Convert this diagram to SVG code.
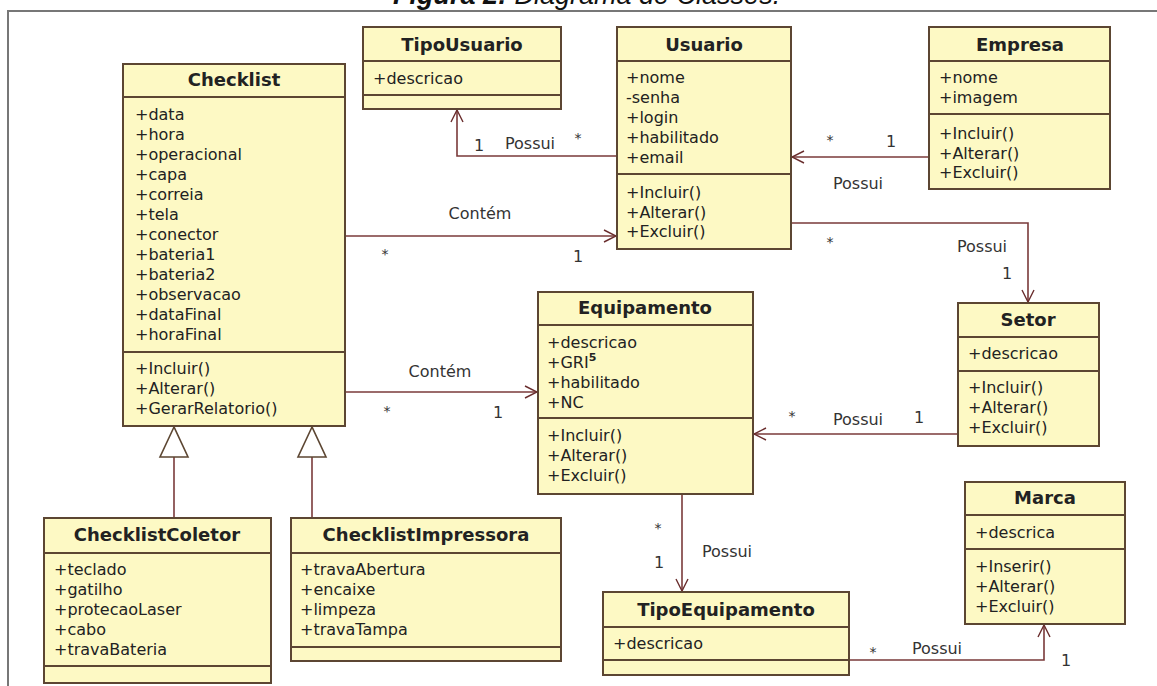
<svg xmlns="http://www.w3.org/2000/svg" width="1157" height="686" viewBox="0 0 1157 686">
<defs>
<style>
.box{fill:#fdf9c4;stroke:#5c4632;stroke-width:2}
.sep{stroke:#5c4632;stroke-width:2}
.t{font-family:"DejaVu Sans",sans-serif;font-size:18px;font-weight:bold;fill:#222;text-anchor:middle}
.a{font-family:"DejaVu Sans",sans-serif;font-size:16px;fill:#222}
.l{font-family:"DejaVu Sans",sans-serif;font-size:16px;fill:#333;text-anchor:middle}
.m{font-family:"DejaVu Sans",sans-serif;font-size:14px;fill:#333;text-anchor:middle}
.c{fill:none;stroke:#7a3a3a;stroke-width:1.6}
.g{fill:#fff;stroke:#5c4632;stroke-width:1.6}
</style>
<marker id="arr" viewBox="0 0 14 14" refX="13" refY="7" markerWidth="14" markerHeight="14" markerUnits="userSpaceOnUse" orient="auto">
<path d="M1,1 L13,7 L1,13" fill="none" stroke="#6a2e2e" stroke-width="1.4"/>
</marker>
</defs>
<rect x="0" y="0" width="1157" height="686" fill="#fff"/>
<text x="393" y="4" font-family="Liberation Sans,Arial,sans-serif" font-size="27" font-style="italic" fill="#111"><tspan font-weight="bold">Figura 2:</tspan> Diagrama de Classes.</text>
<path d="M8,686 L8,11 L1157,11" fill="none" stroke="#777" stroke-width="2"/>

<g id="connectors">
<polyline class="c" points="617,156 457,156 457,110" marker-end="url(#arr)"/>
<text class="l" x="479" y="151">1</text><text class="l" x="530" y="149">Possui</text><text class="m" x="578" y="143">*</text>
<line class="c" x1="929" y1="157" x2="792" y2="157" marker-end="url(#arr)"/>
<text class="m" x="830" y="145">*</text><text class="l" x="891" y="147">1</text><text class="l" x="858" y="189">Possui</text>
<line class="c" x1="345" y1="236" x2="616" y2="236" marker-end="url(#arr)"/>
<text class="l" x="480" y="219">Contém</text><text class="m" x="385" y="259">*</text><text class="l" x="578" y="262">1</text>
<polyline class="c" points="792,223 1028,223 1028,302" marker-end="url(#arr)"/>
<text class="m" x="830" y="247">*</text><text class="l" x="982" y="252">Possui</text><text class="l" x="1007" y="279">1</text>
<line class="c" x1="345" y1="392" x2="537" y2="392" marker-end="url(#arr)"/>
<text class="l" x="440" y="377">Contém</text><text class="m" x="387" y="416">*</text><text class="l" x="498" y="418">1</text>
<line class="c" x1="958" y1="434" x2="754" y2="434" marker-end="url(#arr)"/>
<text class="m" x="792" y="421">*</text><text class="l" x="858" y="425">Possui</text><text class="l" x="919" y="423">1</text>
<line class="c" x1="682" y1="494" x2="682" y2="591" marker-end="url(#arr)"/>
<text class="m" x="658" y="533">*</text><text class="l" x="727" y="557">Possui</text><text class="l" x="659" y="568">1</text>
<polyline class="c" points="849,660 1044,660 1044,625" marker-end="url(#arr)"/>
<text class="m" x="873" y="657">*</text><text class="l" x="937" y="654">Possui</text><text class="l" x="1066" y="666">1</text>
<line class="c" x1="174" y1="518" x2="174" y2="457"/>
<polygon class="g" points="174,427 160,457 188,457"/>
<line class="c" x1="312" y1="518" x2="312" y2="457"/>
<polygon class="g" points="312,427 298,457 326,457"/>
</g>

<g id="TipoUsuario">
<rect class="box" x="363" y="27" width="198" height="82"/>
<line class="sep" x1="363" y1="61" x2="561" y2="61"/><line class="sep" x1="363" y1="95" x2="561" y2="95"/>
<text class="t" x="462" y="51">TipoUsuario</text>
<text class="a" x="373" y="84">+descricao</text>
</g>

<g id="Usuario">
<rect class="box" x="617" y="27" width="174" height="222"/>
<line class="sep" x1="617" y1="61" x2="791" y2="61"/><line class="sep" x1="617" y1="174" x2="791" y2="174"/>
<text class="t" x="704" y="51">Usuario</text>
<text class="a" x="626" y="83">+nome</text>
<text class="a" x="626" y="103">-senha</text>
<text class="a" x="626" y="123">+login</text>
<text class="a" x="626" y="143">+habilitado</text>
<text class="a" x="626" y="163">+email</text>
<text class="a" x="626" y="198">+Incluir()</text>
<text class="a" x="626" y="218">+Alterar()</text>
<text class="a" x="626" y="237">+Excluir()</text>
</g>

<g id="Empresa">
<rect class="box" x="929" y="27" width="181" height="162"/>
<line class="sep" x1="929" y1="61" x2="1110" y2="61"/><line class="sep" x1="929" y1="114" x2="1110" y2="114"/>
<text class="t" x="1020" y="51">Empresa</text>
<text class="a" x="939" y="83">+nome</text>
<text class="a" x="939" y="103">+imagem</text>
<text class="a" x="939" y="139">+Incluir()</text>
<text class="a" x="939" y="159">+Alterar()</text>
<text class="a" x="939" y="178">+Excluir()</text>
</g>

<g id="Checklist">
<rect class="box" x="123" y="64" width="222" height="362"/>
<line class="sep" x1="123" y1="97" x2="345" y2="97"/><line class="sep" x1="123" y1="352" x2="345" y2="352"/>
<text class="t" x="234" y="86">Checklist</text>
<text class="a" x="135" y="120">+data</text>
<text class="a" x="135" y="140">+hora</text>
<text class="a" x="135" y="160">+operacional</text>
<text class="a" x="135" y="180">+capa</text>
<text class="a" x="135" y="200">+correia</text>
<text class="a" x="135" y="220">+tela</text>
<text class="a" x="135" y="240">+conector</text>
<text class="a" x="135" y="260">+bateria1</text>
<text class="a" x="135" y="280">+bateria2</text>
<text class="a" x="135" y="300">+observacao</text>
<text class="a" x="135" y="320">+dataFinal</text>
<text class="a" x="135" y="340">+horaFinal</text>
<text class="a" x="135" y="374">+Incluir()</text>
<text class="a" x="135" y="394">+Alterar()</text>
<text class="a" x="135" y="414">+GerarRelatorio()</text>
</g>

<g id="Equipamento">
<rect class="box" x="538" y="292" width="215" height="202"/>
<line class="sep" x1="538" y1="325" x2="753" y2="325"/><line class="sep" x1="538" y1="418" x2="753" y2="418"/>
<text class="t" x="645" y="314">Equipamento</text>
<text class="a" x="547" y="348">+descricao</text>
<text class="a" x="547" y="368">+GRI<tspan font-size="11" font-weight="bold" dy="-7">5</tspan></text>
<text class="a" x="547" y="388">+habilitado</text>
<text class="a" x="547" y="408">+NC</text>
<text class="a" x="547" y="441">+Incluir()</text>
<text class="a" x="547" y="461">+Alterar()</text>
<text class="a" x="547" y="481">+Excluir()</text>
</g>

<g id="Setor">
<rect class="box" x="958" y="303" width="141" height="143"/>
<line class="sep" x1="958" y1="337" x2="1099" y2="337"/><line class="sep" x1="958" y1="371" x2="1099" y2="371"/>
<text class="t" x="1028" y="326">Setor</text>
<text class="a" x="968" y="359">+descricao</text>
<text class="a" x="968" y="393">+Incluir()</text>
<text class="a" x="968" y="413">+Alterar()</text>
<text class="a" x="968" y="433">+Excluir()</text>
</g>

<g id="Marca">
<rect class="box" x="965" y="482" width="160" height="142"/>
<line class="sep" x1="965" y1="515" x2="1125" y2="515"/><line class="sep" x1="965" y1="549" x2="1125" y2="549"/>
<text class="t" x="1045" y="504">Marca</text>
<text class="a" x="975" y="538">+descrica</text>
<text class="a" x="975" y="572">+Inserir()</text>
<text class="a" x="975" y="592">+Alterar()</text>
<text class="a" x="975" y="612">+Excluir()</text>
</g>

<g id="TipoEquipamento">
<rect class="box" x="603" y="592" width="246" height="83"/>
<line class="sep" x1="603" y1="627" x2="849" y2="627"/><line class="sep" x1="603" y1="660" x2="849" y2="660"/>
<text class="t" x="726" y="616">TipoEquipamento</text>
<text class="a" x="613" y="649">+descricao</text>
</g>

<g id="ChecklistColetor">
<rect class="box" x="44" y="518" width="227" height="165"/>
<line class="sep" x1="44" y1="553" x2="271" y2="553"/><line class="sep" x1="44" y1="666" x2="271" y2="666"/>
<text class="t" x="157" y="541">ChecklistColetor</text>
<text class="a" x="54" y="575">+teclado</text>
<text class="a" x="54" y="595">+gatilho</text>
<text class="a" x="54" y="615">+protecaoLaser</text>
<text class="a" x="54" y="635">+cabo</text>
<text class="a" x="54" y="655">+travaBateria</text>
</g>

<g id="ChecklistImpressora">
<rect class="box" x="291" y="518" width="270" height="143"/>
<line class="sep" x1="291" y1="553" x2="561" y2="553"/><line class="sep" x1="291" y1="647" x2="561" y2="647"/>
<text class="t" x="426" y="541">ChecklistImpressora</text>
<text class="a" x="300" y="575">+travaAbertura</text>
<text class="a" x="300" y="595">+encaixe</text>
<text class="a" x="300" y="615">+limpeza</text>
<text class="a" x="300" y="635">+travaTampa</text>
</g>
</svg>
